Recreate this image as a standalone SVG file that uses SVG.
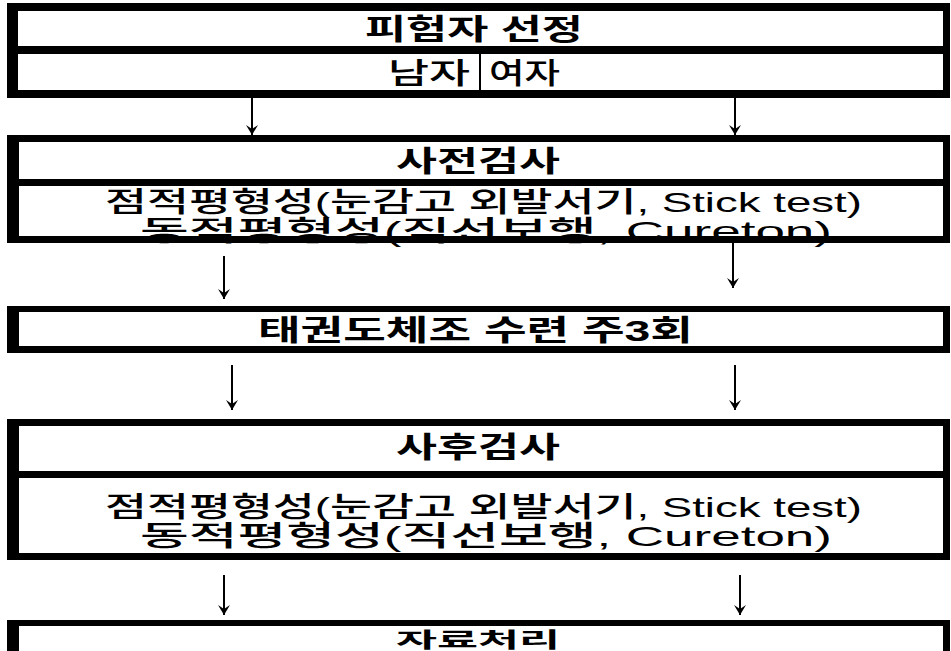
<svg xmlns="http://www.w3.org/2000/svg" width="951" height="651" viewBox="0 0 951 651">
<defs>
<marker id="ah" viewBox="0 0 10 12" refX="10" refY="6" markerWidth="10" markerHeight="12" markerUnits="userSpaceOnUse" orient="auto">
<path d="M0,0 L4,6 L0,12 L10,6 Z" fill="#000"/>
</marker>
<style>
.frame{fill:#000}
.cell{fill:#fff}
.t{font-family:"Liberation Sans","Noto Sans CJK KR",sans-serif;font-weight:700;fill:#000}
.l{font-family:"Liberation Sans","Noto Sans CJK KR",sans-serif;font-weight:500;fill:#000}
.arr{stroke:#000;stroke-width:2;fill:none;marker-end:url(#ah)}
</style>
</defs>
<rect width="951" height="651" fill="#fff"/>
<g id="node-subjects">
<rect class="frame" x="7" y="3" width="943" height="95"/>
<rect class="cell" x="18" y="11" width="925" height="35"/>
<rect class="cell" x="18" y="54" width="925" height="36"/>
<rect class="frame" x="479" y="54" width="2" height="36"/>
<text class="t" x="365" y="40" font-size="29" textLength="218" lengthAdjust="spacingAndGlyphs">피험자 선정</text>
<text class="l" x="388" y="84" font-size="29" textLength="82" lengthAdjust="spacingAndGlyphs">남자</text>
<text class="l" x="489" y="84" font-size="29" textLength="71" lengthAdjust="spacingAndGlyphs">여자</text>
</g>
<g id="node-pretest">
<rect class="frame" x="7" y="135" width="943" height="108"/>
<rect class="cell" x="19" y="142" width="924" height="37"/>
<rect class="cell" x="19" y="186" width="924" height="50"/>
<text class="t" x="396" y="172" font-size="29" textLength="164" lengthAdjust="spacingAndGlyphs">사전검사</text>
<text class="l" x="105" y="212" font-size="28" textLength="757" lengthAdjust="spacingAndGlyphs">점적평형성(눈감고 외발서기, Stick test)</text>
<text class="l" x="140" y="241" font-size="28" textLength="692" lengthAdjust="spacingAndGlyphs">동적평형성(직선보행, Cureton)</text>
<rect class="frame" x="7" y="236" width="943" height="7"/>
</g>
<g id="node-training">
<rect class="frame" x="7" y="306" width="943" height="47"/>
<rect class="cell" x="19" y="312" width="924" height="34"/>
<text class="t" x="258" y="341" font-size="29" textLength="435" lengthAdjust="spacingAndGlyphs">태권도체조 수련 주3회</text>
</g>
<g id="node-posttest">
<rect class="frame" x="7" y="419" width="943" height="141"/>
<rect class="cell" x="19" y="426" width="924" height="45"/>
<rect class="cell" x="19" y="478" width="924" height="75"/>
<text class="t" x="396" y="458" font-size="29" textLength="164" lengthAdjust="spacingAndGlyphs">사후검사</text>
<text class="l" x="105" y="517" font-size="28" textLength="757" lengthAdjust="spacingAndGlyphs">점적평형성(눈감고 외발서기, Stick test)</text>
<text class="l" x="140" y="546" font-size="28" textLength="692" lengthAdjust="spacingAndGlyphs">동적평형성(직선보행, Cureton)</text>
</g>
<g id="node-analysis">
<rect class="frame" x="7" y="620" width="943" height="42"/>
<rect class="cell" x="19" y="626" width="924" height="32"/>
<text class="t" x="396" y="647" font-size="21" textLength="164" lengthAdjust="spacingAndGlyphs">자료처리</text>
</g>
<g id="connectors">
<line class="arr" x1="252" y1="98" x2="252" y2="135"/>
<line class="arr" x1="735" y1="98" x2="735" y2="135"/>
<line class="arr" x1="224" y1="256" x2="224" y2="299"/>
<line class="arr" x1="733" y1="243" x2="733" y2="288"/>
<line class="arr" x1="232" y1="365" x2="232" y2="410"/>
<line class="arr" x1="735" y1="365" x2="735" y2="410"/>
<line class="arr" x1="224" y1="575" x2="224" y2="615"/>
<line class="arr" x1="740" y1="575" x2="740" y2="615"/>
</g>
</svg>
